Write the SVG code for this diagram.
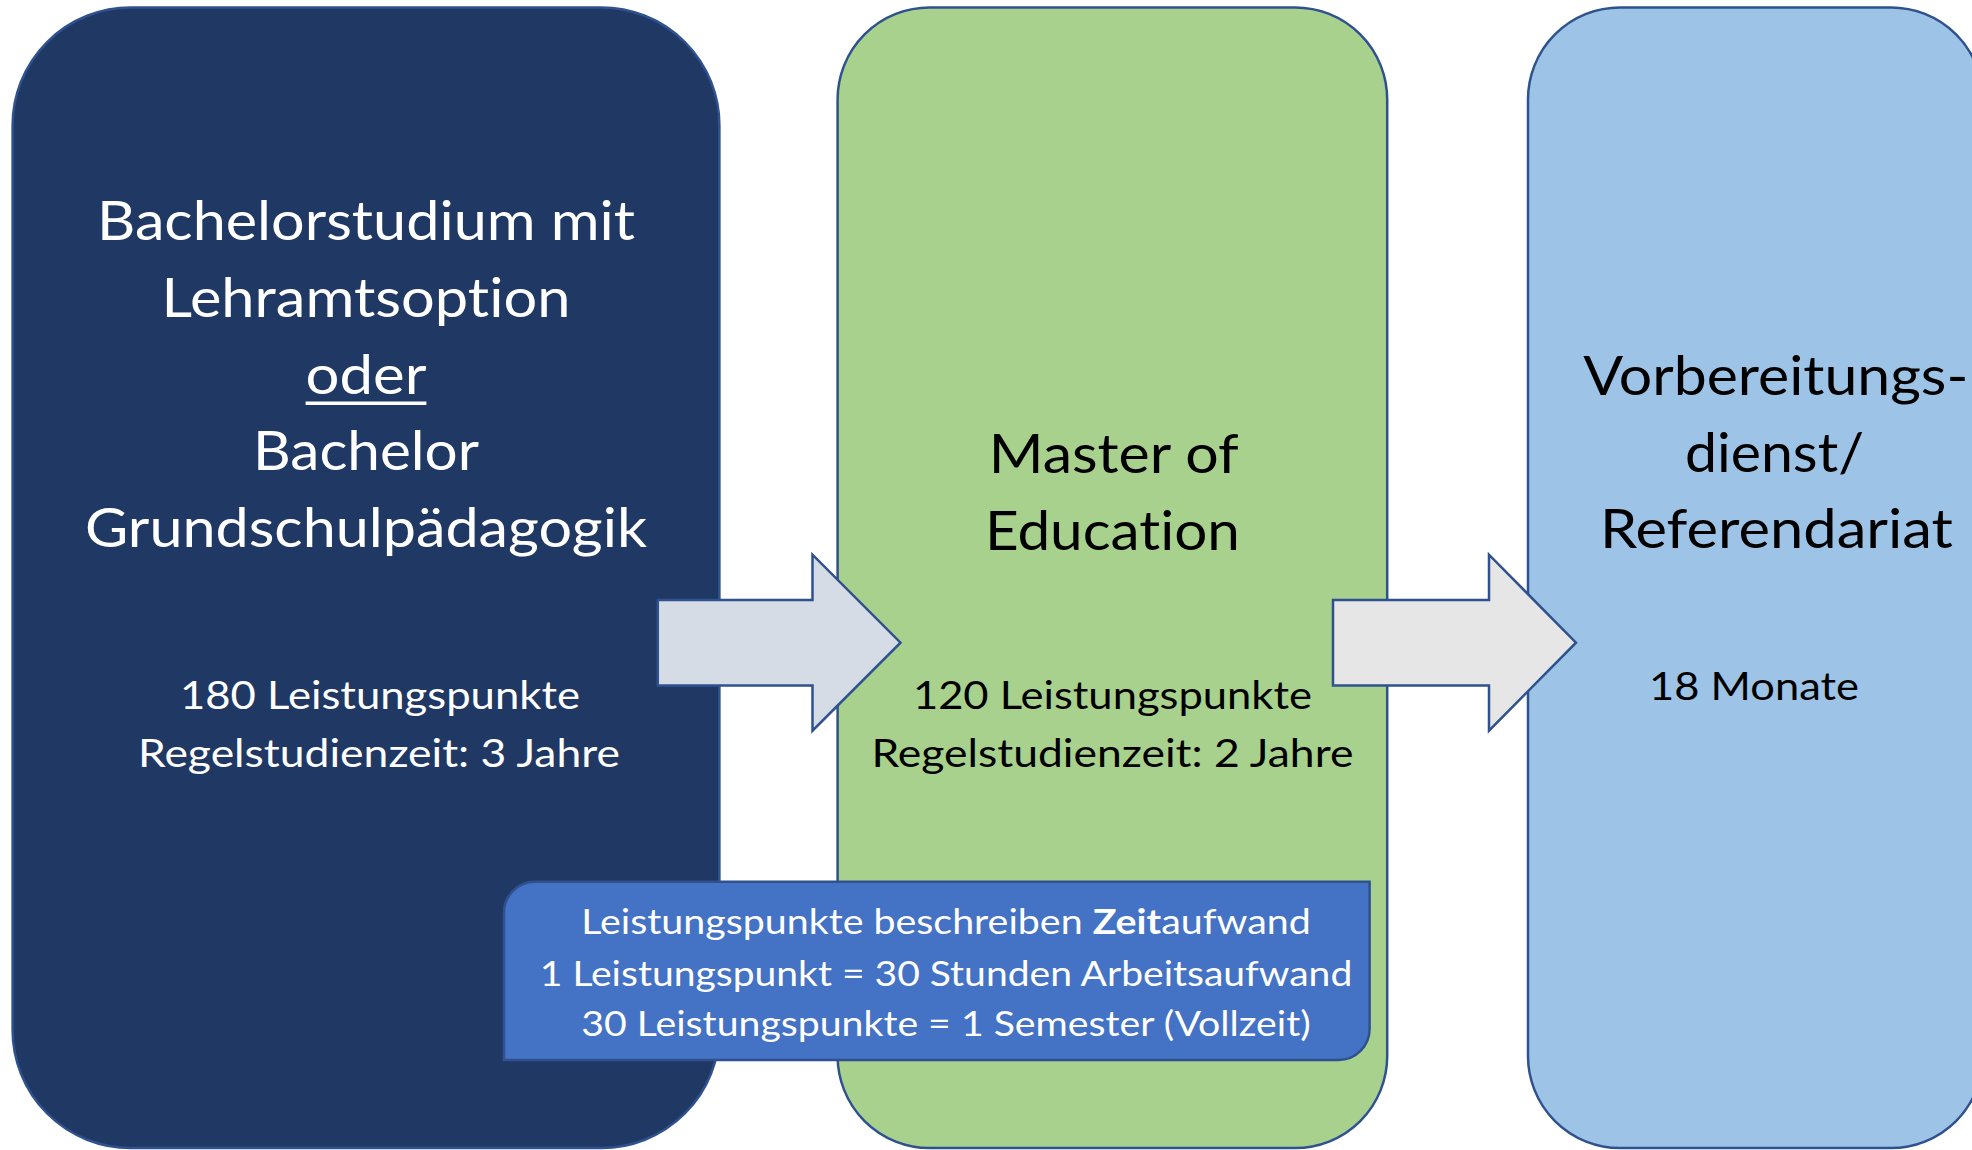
<svg xmlns="http://www.w3.org/2000/svg" width="1972" height="1150" viewBox="0 0 1972 1150">
<style>
.box{stroke:#2F528F;stroke-width:2.5}
.t{font-family:Lato,"Open Sans","Liberation Sans",sans-serif;text-anchor:middle;font-variant-ligatures:none;font-feature-settings:"liga" 0}
.big{font-size:54px}
.small{font-size:39px}
.info{font-size:34px;fill:#ffffff}
.w{fill:#ffffff}
.k{fill:#000000}
</style>
<rect width="1972" height="1150" fill="#ffffff"/>
<g id="node-bachelor">
<rect class="box" x="12.6" y="7.5" width="706.8" height="1140.5" rx="118" ry="118" fill="#203864"/>
<text class="t big w" x="366" y="240" textLength="538" lengthAdjust="spacingAndGlyphs">Bachelorstudium mit</text>
<text class="t big w" x="366" y="317" textLength="409" lengthAdjust="spacingAndGlyphs">Lehramtsoption</text>
<text class="t big w" x="366" y="394" textLength="121" lengthAdjust="spacingAndGlyphs">oder</text>
<rect x="305.6" y="401.5" width="120.8" height="3.5" fill="#ffffff"/>
<text class="t big w" x="366" y="470" textLength="226" lengthAdjust="spacingAndGlyphs">Bachelor</text>
<text class="t big w" x="366" y="547" textLength="562" lengthAdjust="spacingAndGlyphs">Grundschulpädagogik</text>
<text class="t small w" x="380" y="709" textLength="400" lengthAdjust="spacingAndGlyphs">180 Leistungspunkte</text>
<text class="t small w" x="379" y="767" textLength="482" lengthAdjust="spacingAndGlyphs">Regelstudienzeit: 3 Jahre</text>
</g>
<g id="node-master">
<rect class="box" x="837.6" y="7.5" width="549.6" height="1140.5" rx="92" ry="92" fill="#A9D18E"/>
<text class="t big k" x="1113.7" y="473" textLength="250" lengthAdjust="spacingAndGlyphs">Master of</text>
<text class="t big k" x="1112.4" y="550" textLength="255" lengthAdjust="spacingAndGlyphs">Education</text>
<text class="t small k" x="1112.4" y="709" textLength="399" lengthAdjust="spacingAndGlyphs">120 Leistungspunkte</text>
<text class="t small k" x="1112.4" y="767" textLength="482" lengthAdjust="spacingAndGlyphs">Regelstudienzeit: 2 Jahre</text>
</g>
<g id="node-referendariat">
<rect class="box" x="1528" y="7.5" width="455" height="1140.5" rx="92" ry="92" fill="#9DC3E6"/>
<text class="t big k" x="1775.8" y="395" textLength="385" lengthAdjust="spacingAndGlyphs">Vorbereitungs-</text>
<text class="t big k" x="1774.5" y="472" textLength="179" lengthAdjust="spacingAndGlyphs">dienst/</text>
<text class="t big k" x="1776.5" y="548" textLength="353" lengthAdjust="spacingAndGlyphs">Referendariat</text>
<text class="t small k" x="1754" y="700" textLength="210" lengthAdjust="spacingAndGlyphs">18 Monate</text>
</g>
<g id="connectors">
<polygon class="box" points="657.8,600 812.5,600 812.5,554.7 900.5,642.7 812.5,730.7 812.5,685.5 657.8,685.5" fill="#D6DCE5"/>
<polygon class="box" points="1333,600 1489,600 1489,554.7 1576,642.7 1489,730.7 1489,685.5 1333,685.5" fill="#E7E6E6"/>
</g>
<g id="node-info">
<path class="box" d="M535,881.7 H1369.6 V1029 A31,31 0 0 1 1338.6,1060 H504 V912.7 A31,31 0 0 1 535,881.7 Z" fill="#4472C4"/>
<text class="t info" x="946" y="934" textLength="729.5" lengthAdjust="spacingAndGlyphs">Leistungspunkte beschreiben <tspan font-weight="bold">Zeit</tspan>aufwand</text>
<text class="t info" x="946" y="985.5" textLength="812.5" lengthAdjust="spacingAndGlyphs">1 Leistungspunkt = 30 Stunden Arbeitsaufwand</text>
<text class="t info" x="946" y="1036" textLength="729.5" lengthAdjust="spacingAndGlyphs">30 Leistungspunkte = 1 Semester (Vollzeit)</text>
</g>
</svg>
